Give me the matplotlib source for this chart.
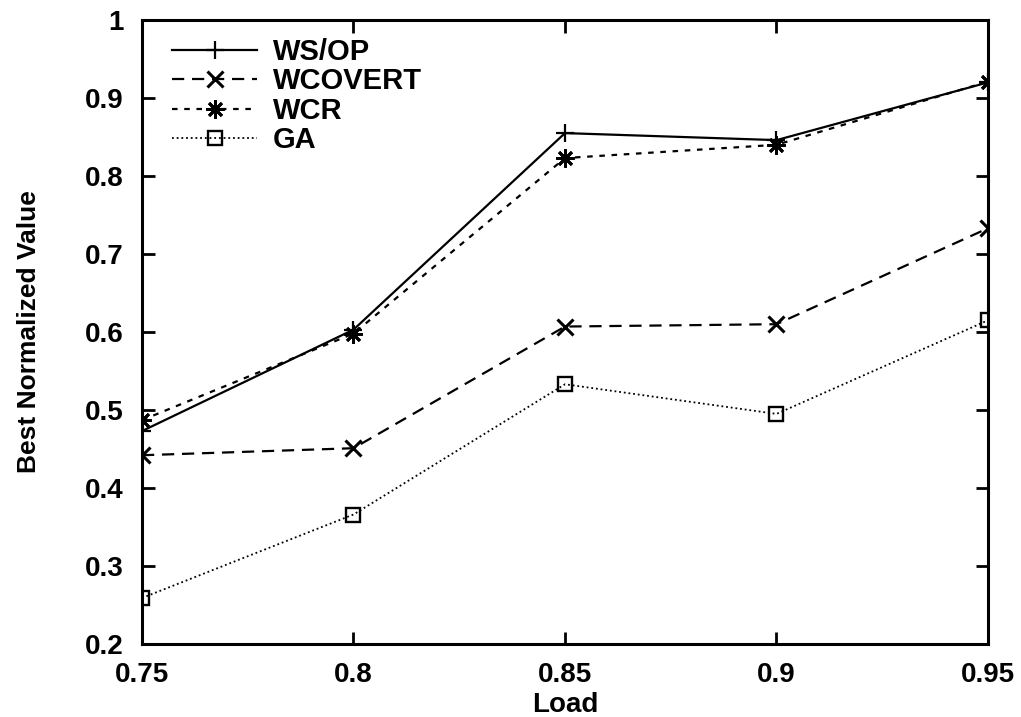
import matplotlib
matplotlib.use("Agg")
import matplotlib.pyplot as plt

# Load levels and best normalized value per heuristic
load = [0.75, 0.80, 0.85, 0.90, 0.95]
ws_op = [0.473, 0.603, 0.855, 0.846, 0.920]
wcovert = [0.442, 0.451, 0.607, 0.610, 0.733]
wcr = [0.487, 0.598, 0.823, 0.840, 0.921]
ga = [0.259, 0.366, 0.533, 0.495, 0.615]

x_ticks = [0.75, 0.8, 0.85, 0.9, 0.95]
x_tick_labels = ["0.75", "0.8", "0.85", "0.9", "0.95"]
y_ticks = [0.2, 0.3, 0.4, 0.5, 0.6, 0.7, 0.8, 0.9, 1.0]
y_tick_labels = ["0.2", "0.3", "0.4", "0.5", "0.6", "0.7", "0.8", "0.9", "1"]

plt.rcParams["font.family"] = ["Liberation Sans", "DejaVu Sans"]
plt.rcParams["font.weight"] = "bold"

fig = plt.figure(figsize=(10.21, 7.17), dpi=100)
ax = fig.add_axes([142 / 1021, 1 - 644 / 717, (988 - 142) / 1021, (644 - 20) / 717])

lw = 1.6
ax.plot(load, ws_op, color="black", lw=lw, linestyle="-",
        marker="+", markersize=13, markeredgewidth=1.6, label="WS/OP")
ax.plot(load, wcovert, color="black", lw=lw, linestyle=(0, (5.5, 3.5)),
        marker="x", markersize=11, markeredgewidth=2.2, label="WCOVERT")
ax.plot(load, wcr, color="black", lw=lw, linestyle=(0, (2.5, 3.0)),
        marker=(8, 2, 0), markersize=13, markeredgewidth=2.0, label="WCR")
ax.plot(load, ga, color="black", lw=1.3, linestyle=(0, (1.0, 1.6)),
        marker="s", markersize=10, markerfacecolor="none",
        markeredgewidth=1.7, label="GA")

ax.set_xlim(0.75, 0.95)
ax.set_ylim(0.2, 1.0)
ax.set_xticks(x_ticks)
ax.set_xticklabels(x_tick_labels)
ax.set_yticks(y_ticks)
ax.set_yticklabels(y_tick_labels)

ax.tick_params(axis="both", which="both", direction="in", length=9, width=2,
               top=True, right=True, labelsize=20)
ax.tick_params(axis="x", pad=13)
ax.tick_params(axis="y", pad=13)

for spine in ax.spines.values():
    spine.set_linewidth(2.2)

ax.set_xlabel("Load", fontsize=20, fontweight="bold", labelpad=3)
ax.set_ylabel("Best Normalized Value", fontsize=19, fontweight="bold", labelpad=32)

ax.legend(loc="upper left", frameon=False,
          prop={"weight": "bold", "size": 21},
          handlelength=2.9, handletextpad=0.55, labelspacing=0.05,
          borderaxespad=0.0, bbox_to_anchor=(0.022, 0.99))

fig.savefig("out.png", dpi=100)
